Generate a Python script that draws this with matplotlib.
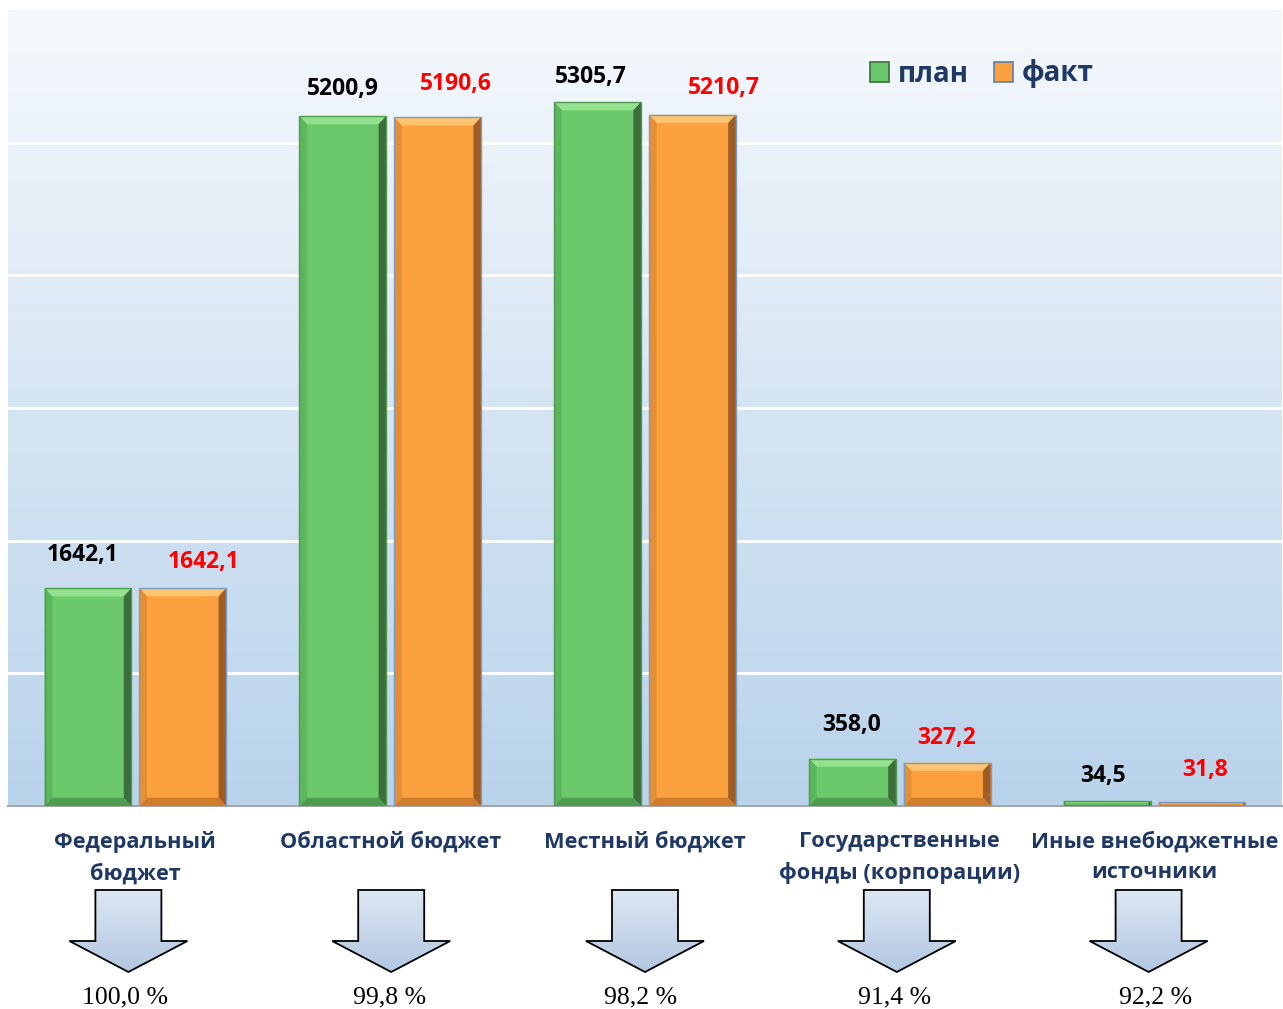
import numpy as np
import matplotlib
matplotlib.use("Agg")
import matplotlib.pyplot as plt
from matplotlib.patches import Polygon, Patch
from matplotlib.colors import LinearSegmentedColormap

categories = [
    "Федеральный\nбюджет",
    "Областной бюджет",
    "Местный бюджет",
    "Государственные\nфонды (корпорации)",
    "Иные внебюджетные\nисточники",
]
plan = [1642.1, 5200.9, 5305.7, 358.0, 34.5]
fact = [1642.1, 5190.6, 5210.7, 327.2, 31.8]
percent = ["100,0 %", "99,8 %", "98,2 %", "91,4 %", "92,2 %"]

# label nudges in pixels (dx, dy above bar top)
plan_off = [(-5, 33), (0, 27), (-7, 25), (-1, 34), (-4, 25)]
fact_off = [(21, 26), (18, 33), (32, 27), (-1, 25), (3, 32)]
# horizontal nudges (pixels) for arrows and percent captions
arrow_dx = [-7, 1, 0, -3, -6]
pct_dx = [-10, -1, -4, -5, 1]

W, H = 1283, 1009
DPI = 100
NAVY = "#1F3864"
FONT = ["Open Sans", "DejaVu Sans"]

plt.rcParams["font.family"] = FONT

GREEN = dict(face="#6BC96C", top="#93E08F", right="#3C6E3C", bottom="#4F9B50", left="#5CB65D", edge="#4E9A4E")
ORANGE = dict(face="#FBA03E", top="#FFC46F", right="#9E5E26", bottom="#CF7C2C", left="#E48F36", edge="#7B9CC2")


def fmt(v):
    return f"{v:.1f}".replace(".", ",")


def bevel_bar(ax, xc, w, h, c, bx=0.03, by_max=62):
    x0, x1 = xc - w / 2, xc + w / 2
    by = min(by_max, h * 0.3)
    bxx = bx if h > 150 else bx * 0.3
    polys = [
        ([(x0, 0), (x1, 0), (x1, h), (x0, h)], c["face"]),
        ([(x0, h), (x1, h), (x1 - bxx, h - by), (x0 + bxx, h - by)], c["top"]),
        ([(x1, h), (x1, 0), (x1 - bxx, by), (x1 - bxx, h - by)], c["right"]),
        ([(x0, 0), (x1, 0), (x1 - bxx, by), (x0 + bxx, by)], c["bottom"]),
        ([(x0, 0), (x0, h), (x0 + bxx, h - by), (x0 + bxx, by)], c["left"]),
    ]
    for pts, col in polys:
        ax.add_patch(Polygon(pts, closed=True, facecolor=col, edgecolor="none", zorder=3))
    ax.add_patch(Polygon([(x0, 0), (x1, 0), (x1, h), (x0, h)], closed=True,
                         facecolor="none", edgecolor=c["edge"], linewidth=1.0, zorder=4))


fig = plt.figure(figsize=(W / DPI, H / DPI), dpi=DPI)
fig.patch.set_facecolor("white")

left = 8 / W
width = 1274 / W
bottom = (H - 806) / H
height = (806 - 10) / H
ax = fig.add_axes([left, bottom, width, height])

n = len(categories)
x = np.arange(n)
bar_w = 0.341
off = 0.186
px = n / 1274  # one pixel in x data units

ax.set_xlim(-0.5, n - 0.5)
ax.set_ylim(0, 6000)

bg = LinearSegmentedColormap.from_list("bg", ["#F5F9FD", "#D6E5F3", "#B9D3EB"])
ax.imshow(np.linspace(0, 1, 256).reshape(-1, 1), cmap=bg, aspect="auto",
          extent=(-0.5, n - 0.5, 0, 6000), origin="upper", zorder=0)

for yv in range(1000, 6000, 1000):
    ax.axhline(yv, color="white", linewidth=2.0, zorder=1)

for i in range(n):
    bevel_bar(ax, x[i] - off, bar_w, plan[i], GREEN)
    bevel_bar(ax, x[i] + off, bar_w, fact[i], ORANGE)
    ax.annotate(fmt(plan[i]), (x[i] - off, plan[i]), xytext=plan_off[i],
                textcoords="offset pixels", ha="center", va="center",
                fontsize=16.5, fontweight="bold", color="black", zorder=5)
    ax.annotate(fmt(fact[i]), (x[i] + off, fact[i]), xytext=fact_off[i],
                textcoords="offset pixels", ha="center", va="center",
                fontsize=16.5, fontweight="bold", color="#FF0000", zorder=5)

for s in ["top", "right", "left"]:
    ax.spines[s].set_visible(False)
ax.spines["bottom"].set_color("#A6A6A6")
ax.spines["bottom"].set_linewidth(1.5)
ax.set_xticks([])
ax.set_yticks([])

handles = [Patch(facecolor=GREEN["face"], edgecolor="#3C6E3C", linewidth=1.2),
           Patch(facecolor=ORANGE["face"], edgecolor="#5B7FA8", linewidth=1.2)]
leg = ax.legend(handles, ["план", "факт"], loc="center left",
                bbox_to_anchor=(845 / W, 1 - 74 / H), bbox_transform=fig.transFigure,
                ncol=2, frameon=False, handlelength=0.7, handleheight=0.7,
                handletextpad=0.3, columnspacing=0.9,
                prop=dict(family=FONT, weight="bold", size=20))
for t in leg.get_texts():
    t.set_color(NAVY)

# bottom strip: category names, arrows, percentages (y in pixels from top)
ax2 = fig.add_axes([left, 0, width, (H - 806) / H])
ax2.set_xlim(-0.5, n - 0.5)
ax2.set_ylim(H, 806)
ax2.axis("off")

arrow_cmap = LinearSegmentedColormap.from_list("arr", ["#DDE7F3", "#B3C7E1"])
shaft_hw, head_hw = 33 * px, 59 * px
y_top, y_neck, y_tip = 890, 941, 972

for i in range(n):
    ax2.text(x[i], 831, categories[i], ha="center", va="top", fontsize=15.7,
             fontweight="bold", color=NAVY, linespacing=1.6)
    cx = x[i] + arrow_dx[i] * px
    pts = [(cx - shaft_hw, y_top), (cx + shaft_hw, y_top), (cx + shaft_hw, y_neck),
           (cx + head_hw, y_neck), (cx, y_tip), (cx - head_hw, y_neck),
           (cx - shaft_hw, y_neck)]
    poly = Polygon(pts, closed=True, facecolor="none", edgecolor="black", linewidth=1.3, zorder=3)
    ax2.add_patch(poly)
    im = ax2.imshow(np.linspace(0, 1, 128).reshape(-1, 1), cmap=arrow_cmap, aspect="auto",
                    extent=(cx - head_hw, cx + head_hw, y_tip, y_top), origin="upper", zorder=2)
    im.set_clip_path(poly)
    ax2.text(x[i] + pct_dx[i] * px, 997, percent[i], ha="center", va="center", fontsize=18.5,
             family="Liberation Serif", color="black")

fig.savefig("out.png", dpi=DPI)
